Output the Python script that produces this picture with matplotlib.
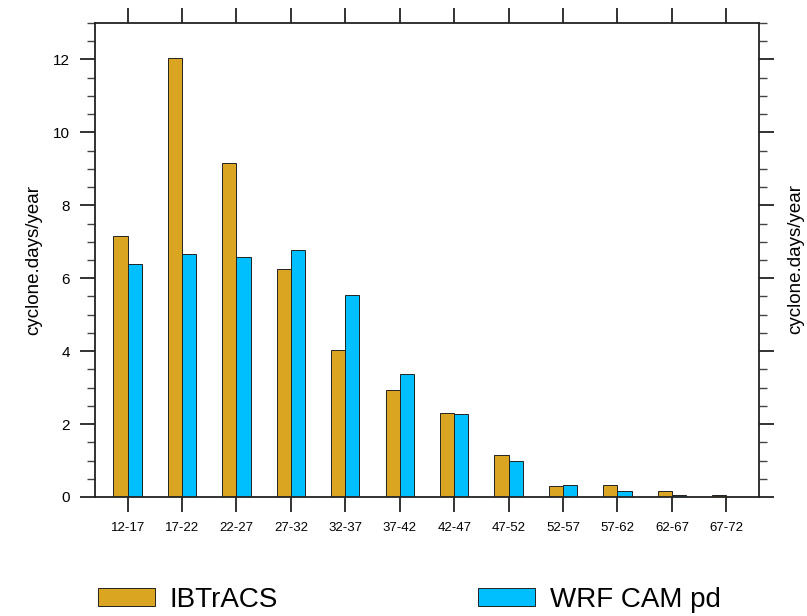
# -*- coding: utf-8 -*-
"""
Cyclone days per year by intensity bin: IBTrACS vs WRF CAM pd
"""

import numpy as np
from matplotlib import pyplot as plt
from matplotlib.ticker import MultipleLocator

# =============================================================================
# DATA
# =============================================================================
bins = ['12-17', '17-22', '22-27', '27-32', '32-37', '37-42',
        '42-47', '47-52', '52-57', '57-62', '62-67', '67-72']
ibtracs = [7.17, 12.05, 9.17, 6.24, 4.02, 2.94, 2.31, 1.16, 0.31, 0.34, 0.17, 0.06]
wrf_cam = [6.40, 6.67, 6.59, 6.78, 5.55, 3.38, 2.27, 0.98, 0.34, 0.16, 0.05, 0.01]
series_names = ['IBTrACS', 'WRF CAM pd']
ylabel = 'cyclone.days/year'

# =============================================================================
# PLOT
# =============================================================================
plt.rcParams['font.family'] = ['Liberation Sans', 'DejaVu Sans']

fig = plt.figure(figsize=(8.07, 6.16), dpi=100)
ax = fig.add_axes([0.1177, 0.1932, 0.8228, 0.7695])

x = np.arange(len(bins))
w = 0.26
b1 = ax.bar(x - w / 2, ibtracs, w, color='#DAA520', edgecolor='#222222', linewidth=0.7)
b2 = ax.bar(x + w / 2, wrf_cam, w, color='#00BFFF', edgecolor='#222222', linewidth=0.7)

ax.set_xlim(-0.6, len(bins) - 0.4)
ax.set_ylim(0, 13)
ax.set_xticks(x)
ax.set_xticklabels(bins, fontsize=9.5)
ax.yaxis.set_major_locator(MultipleLocator(2))
ax.yaxis.set_minor_locator(MultipleLocator(0.5))
ax.tick_params(axis='y', labelsize=11)

for sp in ax.spines.values():
    sp.set_linewidth(1.3)
    sp.set_color('#222222')

ax.tick_params(which='major', direction='out', length=10.5, width=1.3, color='#222222',
               top=True, right=True, labelright=False, labeltop=False, pad=7.5)
ax.tick_params(which='minor', direction='out', length=5.5, width=1.0, color='#444444',
               right=True, left=True)
ax.tick_params(axis='x', which='minor', bottom=False, top=False)

ax.set_ylabel(ylabel, fontsize=13.5, labelpad=8)
fig.text(0.9857, 0.58, ylabel, rotation=90, fontsize=13.5, ha='center', va='center')

fig.legend([b1, b2], series_names, ncol=2, loc='center left',
           bbox_to_anchor=(0.121, 0.026), frameon=False, fontsize=20,
           handlelength=2.05, handleheight=0.61, handletextpad=0.54,
           columnspacing=7.2, borderpad=0, borderaxespad=0)

fig.savefig('out.png', dpi=100)
